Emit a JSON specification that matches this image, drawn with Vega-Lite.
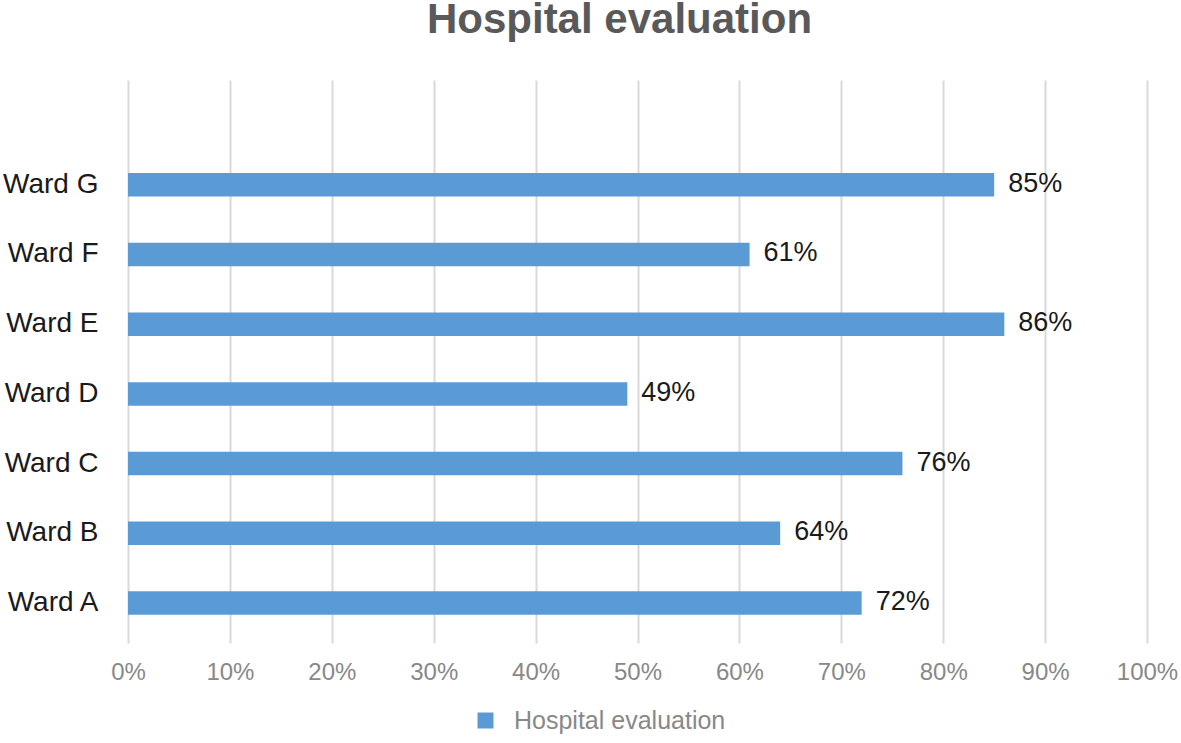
{
  "$schema": "https://vega.github.io/schema/vega-lite/v6.json",
  "autosize": {"type": "none"},
  "width": 1019,
  "height": 563,
  "padding": {"left": 128, "top": 80, "right": 34, "bottom": 100},
  "background": "white",
  "title": {
    "text": "Hospital evaluation",
    "anchor": "middle",
    "dx": -18,
    "offset": 38,
    "font": "Liberation Sans",
    "fontSize": 42,
    "fontWeight": "bold",
    "color": "#595959"
  },
  "config": {
    "view": {"stroke": null},
    "font": "Liberation Sans"
  },
  "data": {
    "values": [
      {"ward": "Ward G", "value": 0.85, "series": "Hospital evaluation"},
      {"ward": "Ward F", "value": 0.61, "series": "Hospital evaluation"},
      {"ward": "Ward E", "value": 0.86, "series": "Hospital evaluation"},
      {"ward": "Ward D", "value": 0.49, "series": "Hospital evaluation"},
      {"ward": "Ward C", "value": 0.76, "series": "Hospital evaluation"},
      {"ward": "Ward B", "value": 0.64, "series": "Hospital evaluation"},
      {"ward": "Ward A", "value": 0.72, "series": "Hospital evaluation"}
    ]
  },
  "encoding": {
    "y": {
      "field": "ward",
      "type": "nominal",
      "sort": ["Ward G", "Ward F", "Ward E", "Ward D", "Ward C", "Ward B", "Ward A"],
      "scale": {"paddingInner": 0.663, "paddingOuter": 0.87, "align": 0.767},
      "axis": {
        "title": null,
        "domain": false,
        "ticks": false,
        "tickSize": 0,
        "labelPadding": 30,
        "labelFontSize": 28,
        "labelColor": "#1a1a1a",
        "labelFont": "Liberation Sans"
      }
    },
    "x": {
      "field": "value",
      "type": "quantitative",
      "scale": {"domain": [0, 1], "nice": false},
      "axis": {
        "title": null,
        "format": ".0%",
        "values": [0, 0.1, 0.2, 0.3, 0.4, 0.5, 0.6, 0.7, 0.8, 0.9, 1],
        "domain": false,
        "ticks": false,
        "tickSize": 0,
        "grid": true,
        "gridColor": "#d9d9d9",
        "gridWidth": 2,
        "labelFlush": false,
        "labelBound": false,
        "labelOverlap": false,
        "labelPadding": 17,
        "labelFontSize": 24,
        "labelColor": "#888888",
        "labelFont": "Liberation Sans"
      }
    }
  },
  "layer": [
    {
      "mark": {"type": "bar"},
      "encoding": {
        "color": {
          "field": "series",
          "type": "nominal",
          "scale": {"range": ["#5b9bd5"]},
          "legend": {
            "title": null,
            "orient": "none",
            "legendX": 345,
            "legendY": 628,
            "symbolType": "square",
            "symbolSize": 256,
            "symbolStrokeWidth": 0,
            "labelFontSize": 25,
            "labelColor": "#888888",
            "labelFont": "Liberation Sans",
            "labelOffset": 16,
            "labelLimit": 0,
            "padding": 0
          }
        }
      }
    },
    {
      "mark": {
        "type": "text",
        "align": "left",
        "baseline": "middle",
        "dx": 14,
        "dy": -1,
        "fontSize": 27,
        "font": "Liberation Sans",
        "color": "#1a1a1a"
      },
      "encoding": {
        "text": {"field": "value", "type": "quantitative", "format": ".0%"}
      }
    }
  ]
}
